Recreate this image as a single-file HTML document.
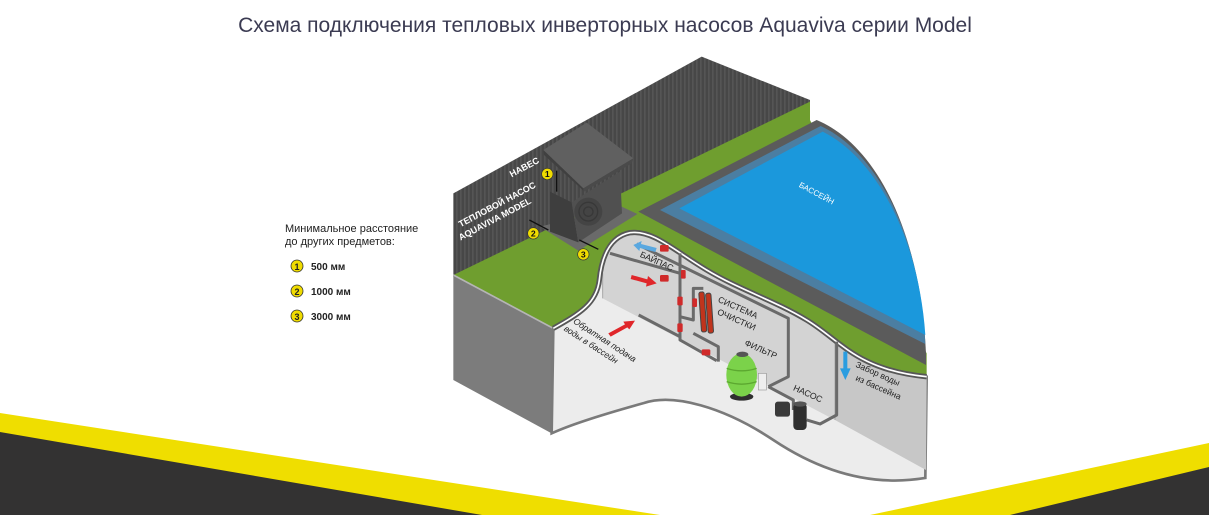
<!DOCTYPE html>
<html><head><meta charset="utf-8"><style>
html,body{margin:0;padding:0;background:#fff;}
svg{display:block;}
text{font-family:"Liberation Sans",sans-serif;}
</style></head><body>
<svg width="1209" height="515" viewBox="0 0 1209 515" xmlns="http://www.w3.org/2000/svg">
<defs>
<pattern id="fence" width="12" height="10" patternUnits="userSpaceOnUse">
<rect width="12" height="10" fill="#474747"/><rect width="5" height="10" fill="#555"/>
</pattern>
</defs>
<polygon points="0,413 660,515 0,515" fill="#efde00"/>
<polygon points="0,432 482,515 0,515" fill="#333232"/>
<polygon points="1209,443 870,515 1209,515" fill="#efde00"/>
<polygon points="1209,467 1010,515 1209,515" fill="#333232"/>

<text x="605" y="32" font-size="21" fill="#3b3b52" text-anchor="middle">Схема подключения тепловых инверторных насосов Aquaviva серии Model</text>

<text x="285" y="232" font-size="11" fill="#222">Минимальное расстояние</text>
<text x="285" y="245" font-size="11" fill="#222">до других предметов:</text>
<g font-size="10" font-weight="bold" fill="#222">
<circle cx="297" cy="266" r="6" fill="#f0dc00" stroke="#333" stroke-width="0.8"/><text x="297" y="270" text-anchor="middle" font-size="9">1</text><text x="311" y="270">500 мм</text>
<circle cx="297" cy="291" r="6" fill="#f0dc00" stroke="#333" stroke-width="0.8"/><text x="297" y="295" text-anchor="middle" font-size="9">2</text><text x="311" y="295">1000 мм</text>
<circle cx="297" cy="316" r="6" fill="#f0dc00" stroke="#333" stroke-width="0.8"/><text x="297" y="320" text-anchor="middle" font-size="9">3</text><text x="311" y="320">3000 мм</text>
</g>

<g transform="translate(440,40) scale(0.33333)">
<path d="M40,460 L785,50 L1110,180 L1110,190 L40,710 Z" fill="url(#fence)"/>
<path d="M40,705 L1110,185 L1110,240 L1460,940 L1460,1010 L340,870 Z" fill="#6f9e2f"/>
<path d="M40,705 L340,865 L335,1180 L40,1020 Z" fill="#7c7c7c"/>
<path d="M40,705 L340,865" stroke="#b5b5b5" stroke-width="5"/>
<path d="M595,515 L1130,240 C1300,310 1440,560 1458,940 L1458,975 Z" fill="#5b5b5b"/>
<path d="M660,510 L1142,258 C1300,330 1440,570 1456,912 Z" fill="#4b7ea2"/>
<path d="M718,505 L1148,275 C1300,350 1435,580 1456,885 Z" fill="#1b98dc"/>
<text x="1075" y="440" font-size="24" fill="#fff" transform="rotate(28 1075 440)">БАССЕЙН</text>
<path d="M300,560 L415,632 L592,522 L545,500 Z" fill="#6a6a6a"/>
<path d="M330,455 L395,487 L415,607 L330,575 Z" fill="#3e3e3e"/>
<path d="M395,487 L540,395 L546,520 L415,607 Z" fill="#505050"/>
<circle cx="445" cy="515" r="42" fill="#444"/>
<circle cx="445" cy="515" r="28" fill="none" stroke="#383838" stroke-width="4"/>
<circle cx="445" cy="515" r="14" fill="none" stroke="#383838" stroke-width="4"/>
<path d="M310,330 L440,248 L580,355 L430,445 Z" fill="#606060"/>
<path d="M310,330 L430,445 L430,452 L312,345 Z" fill="#404040"/>
<path d="M430,445 L580,355 L575,370 L432,455 Z" fill="#4a4a4a"/>
<g font-size="27" font-weight="bold" fill="#fff">
<text x="215" y="412" transform="rotate(-28 215 412)">НАВЕС</text>
<text x="62" y="562" transform="rotate(-28 62 562)">ТЕПЛОВОЙ НАСОС</text>
<text x="62" y="602" transform="rotate(-28 62 602)">AQUAVIVA MODEL</text>
</g>
<g stroke="#111" stroke-width="4">
<line x1="350" y1="392" x2="350" y2="455"/><line x1="268" y1="540" x2="325" y2="570"/><line x1="418" y1="600" x2="475" y2="628"/>
</g>
<g fill="#f0dc00" stroke="#333" stroke-width="2">
<circle cx="322" cy="402" r="17"/><circle cx="280" cy="580" r="17"/><circle cx="430" cy="643" r="17"/>
</g>
<g font-size="26" font-weight="bold" fill="#111" text-anchor="middle">
<text x="322" y="411">1</text><text x="280" y="589">2</text><text x="430" y="652">3</text>
</g>
<path d="M340,865 C420,820 470,790 478,720 C485,650 510,590 570,578 C640,570 700,630 800,690 C900,750 1000,780 1100,840 C1200,900 1250,990 1460,1010 L1456,1314 C1300,1340 1150,1300 1000,1200 C850,1100 700,1060 612,1089 C500,1120 400,1150 335,1180 Z" fill="#ececec" stroke="#7a7a7a" stroke-width="8"/>
<path d="M482,700 C490,640 510,590 570,578 C640,570 700,630 800,690 C900,750 1000,780 1100,840 C1150,870 1170,885 1185,897 L1185,1140 L488,775 Z" fill="#d3d3d3"/>
<path d="M1185,897 C1240,965 1310,1000 1460,1010 L1458,1290 L1185,1140 Z" fill="#c7c7c7"/>
<path d="M1185,897 L1185,1140 M488,700 L488,775" stroke="#aaa" stroke-width="3"/>
<path d="M340,865 C420,820 470,790 478,720 C485,650 510,590 570,578 C640,570 700,630 800,690 C900,750 1000,780 1100,840 C1200,900 1250,990 1460,1010" fill="none" stroke="#575757" stroke-width="16"/>
<path d="M340,865 C420,820 470,790 478,720 C485,650 510,590 570,578 C640,570 700,630 800,690 C900,750 1000,780 1100,840 C1200,900 1250,990 1460,1010" fill="none" stroke="#fff" stroke-width="5"/>
<g fill="none" stroke="#6a6a6a" stroke-width="9" stroke-linejoin="round">
<path d="M590,612 L1045,835 L1045,1010 L985,1040"/>
<path d="M510,640 L720,700"/>
<path d="M720,640 L720,900 L830,962"/>
<path d="M720,830 L760,840 L760,745 L790,745"/>
<path d="M760,880 L835,920 L835,965"/>
<path d="M596,825 L720,890"/>
<path d="M985,1040 L1060,1080 L1060,1110"/>
<path d="M1100,1140 L1140,1152 L1190,1125 L1190,905"/>
</g>
<g fill="#d02a2a">
<rect x="660" y="615" width="26" height="20" rx="4"/><rect x="660" y="705" width="26" height="20" rx="4"/>
<rect x="723" y="690" width="14" height="26" rx="3"/><rect x="712" y="770" width="16" height="26" rx="3"/>
<rect x="757" y="775" width="14" height="26" rx="3"/><rect x="712" y="850" width="16" height="26" rx="3"/>
<rect x="785" y="928" width="26" height="18" rx="4"/>
</g>
<g transform="rotate(-4 800 810)">
<rect x="780" y="755" width="16" height="120" rx="6" fill="#c0341c" stroke="#444" stroke-width="3"/>
<rect x="800" y="760" width="16" height="120" rx="6" fill="#c0341c" stroke="#444" stroke-width="3"/>
</g>
<ellipse cx="905" cy="1070" rx="35" ry="12" fill="#2f2f2f"/>
<ellipse cx="905" cy="1005" rx="46" ry="65" fill="#7bd24a"/>
<path d="M860,985 Q905,1000 950,985 M860,1025 Q905,1040 950,1025" stroke="#5ca830" stroke-width="4" fill="none"/>
<ellipse cx="907" cy="943" rx="18" ry="8" fill="#555"/>
<rect x="955" y="1000" width="24" height="50" fill="#eee" stroke="#999" stroke-width="2"/>
<rect x="1005" y="1085" width="45" height="45" rx="8" fill="#3a3a3a"/>
<rect x="1060" y="1090" width="40" height="80" rx="12" fill="#2f2f2f"/>
<ellipse cx="1080" cy="1092" rx="20" ry="8" fill="#555"/>
<path d="M580,615 L605,603 L603,612 L650,624 L646,636 L600,624 L598,633 Z" fill="#5aa8e0"/>
<path d="M575,705 L622,718 L624,708 L650,730 L618,740 L620,730 L572,717 Z" fill="#e0262a"/>
<path d="M505,880 L555,853 L550,845 L585,842 L568,868 L562,862 L512,890 Z" fill="#e0262a"/>
<path d="M1210,935 L1222,935 L1222,985 L1232,985 L1216,1020 L1200,985 L1210,985 Z" fill="#2a9de0"/>
<g font-size="26" fill="#222">
<text x="598" y="650" transform="rotate(24 598 650)">БАЙПАС</text>
<text x="832" y="785" transform="rotate(24 832 785)">СИСТЕМА</text>
<text x="830" y="822" transform="rotate(24 830 822)">ОЧИСТКИ</text>
<text x="912" y="915" transform="rotate(24 912 915)">ФИЛЬТР</text>
<text x="1058" y="1050" transform="rotate(24 1058 1050)">НАСОС</text>
<text x="1245" y="980" transform="rotate(24 1245 980)">Забор воды</text>
<text x="1245" y="1020" transform="rotate(24 1245 1020)">из бассейна</text>
<text x="398" y="848" transform="rotate(33 398 848)" font-style="italic">Обратная подача</text>
<text x="370" y="870" transform="rotate(33 370 870)" font-style="italic">воды в бассейн</text>
</g>
</g>
</svg>
</body></html>
